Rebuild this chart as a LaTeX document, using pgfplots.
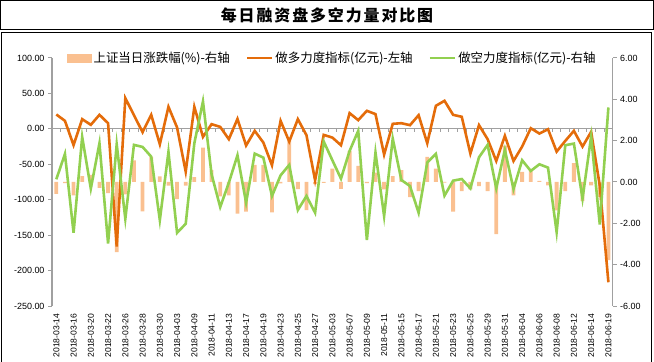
\documentclass[border=0pt]{standalone}
\usepackage{fontspec}
\setmainfont{Liberation Sans}
\newfontfamily\cjk{Noto Sans CJK SC}
\newfontfamily\cjktitle[LetterSpace=12]{Noto Sans CJK SC}
\usepackage{pgfplots}
\pgfplotsset{compat=1.18}
\usepackage{pgfplotstable}
\definecolor{barc}{HTML}{FAC090}
\definecolor{longc}{HTML}{E46C0A}
\definecolor{shortc}{HTML}{92D050}
\definecolor{axgray}{HTML}{A0A0A0}

\pgfplotstableread{
idx bar long short
0 -0.57 20.3 -71.2
1 -0.05 11.3 -35.4
2 -0.65 -23.0 -146.7
3 0.28 13.7 -11.3
4 0.34 5.7 -84.4
5 -0.29 19.8 -20.3
6 -0.54 8.0 -161.8
7 -3.39 -166.0 -21.7
8 -0.60 43.4 -126.9
9 1.05 19.3 -22.6
10 -1.42 -4.7 -25.5
11 1.22 19.8 -39.2
12 0.27 -21.7 -128.8
13 -0.17 31.1 -32.5
14 -0.83 1.9 -146.7
15 -0.17 -60.4 -134.0
16 0.23 31.1 -20.3
17 1.66 -11.3 38.7
18 0.57 6.6 -64.2
19 -0.70 2.8 -110.4
20 -0.65 -14.6 -76.0
21 -1.53 14.0 -37.3
22 -1.43 -23.5 -104.2
23 0.83 -2.8 -34.9
24 0.83 -19.3 -40.6
25 -1.47 -51.4 -94.8
26 -0.07 11.3 -65.6
27 2.00 -17.9 -50.9
28 -0.35 13.7 -114.6
29 -1.36 -9.0 -94.8
30 -0.10 -72.6 -118.4
31 -0.04 -8.5 -17.9
32 0.65 -12.3 -44.3
33 -0.33 -23.1 -70.3
34 1.50 22.2 -31.1
35 0.78 12.3 -2.8
36 -0.06 25.5 -157.0
37 0.45 20.8 -33.5
38 -0.36 -36.3 -123.1
39 0.29 7.1 -13.7
40 0.58 8.0 -72.2
41 -0.73 5.2 -80.7
42 -0.44 19.3 -118.4
43 1.22 -20.3 -47.5
44 0.65 32.5 -35.4
45 -0.03 39.6 -94.3
46 -1.43 19.8 -73.1
47 -0.44 17.0 -70.8
48 -0.36 -34.9 -84.0
49 -0.20 5.2 -40.1
50 -0.44 -14.6 -22.6
51 -2.52 -45.3 -84.0
52 1.76 -9.9 -29.7
53 -0.65 -45.3 -84.9
54 0.49 -25.0 -44.3
55 0.54 0.9 -59.4
56 0.06 -6.6 -50.0
57 -0.16 -0.5 -54.7
58 -1.37 -32.1 -145.8
59 -0.44 -17.0 -23.1
60 0.91 -2.8 -20.8
61 -0.93 -25.0 -98.6
62 -0.16 -4.2 -10.8
63 -0.73 -80.0 -134.9
64 -3.78 -216.5 30.2
}\data

\pgfplotsset{
  linelegend/.style={legend image code/.code={\draw[##1] (0bp,0bp) -- (25bp,0bp);}},
  common/.style={
    scale only axis, width=560.7bp, height=248bp,
    at={(52bp,55bp)}, anchor=south west,
    xmin=-0.5, xmax=64.5,
    tick align=outside, major tick length=4bp,
    axis line style={draw=axgray, line width=1.2bp},
    y tick style={draw=axgray, line width=1bp},
    ticklabel style={font=\fontsize{9}{9}\selectfont, text=black},
    /pgf/number format/.cd, fixed, fixed zerofill, precision=2, 1000 sep={}, assume math mode=true
  }
}

\begin{document}
\begin{tikzpicture}[x=1bp,y=1bp]
\path[use as bounding box] (0,0) rectangle (654,361);

\begin{axis}[common, ymin=-6, ymax=6, ytick={-6,-4,...,6},
  axis y line*=right, axis x line=none]
\addplot[ybar, bar width=3.8bp, fill=barc, draw=none] table[x=idx, y=bar]{\data};
\end{axis}

\begin{axis}[common, ymin=-250, ymax=100, ytick={-250,-200,...,100},
  axis y line*=left, axis x line*=bottom,
  x axis line style={draw=none},
  x tick style={draw=none},
  xtick={0,2,...,64},
  xticklabels={2018-03-14,2018-03-16,2018-03-20,2018-03-22,2018-03-26,2018-03-28,2018-03-30,2018-04-03,2018-04-09,2018-04-11,2018-04-13,2018-04-17,2018-04-19,2018-04-23,2018-04-25,2018-04-27,2018-05-03,2018-05-07,2018-05-09,2018-05-11,2018-05-15,2018-05-17,2018-05-21,2018-05-23,2018-05-25,2018-05-29,2018-05-31,2018-06-04,2018-06-06,2018-06-08,2018-06-12,2018-06-14,2018-06-19},
  xticklabel style={rotate=90, anchor=east, font=\fontsize{8.6}{9}\selectfont},
  legend style={at={(0.5,1)}, anchor=center, draw=none, fill=none,
    font=\cjk\fontsize{12.5}{13}\selectfont, legend columns=3,
    /tikz/every even column/.append style={column sep=14bp}},
  legend cell align=left]
\draw[axgray, line width=1.2bp] (axis cs:-0.5,0) -- (axis cs:64.5,0);
\pgfplotsinvokeforeach{-0.5,0.5,...,64.5}{\draw[axgray, line width=1bp] (axis cs:#1,0) -- ([yshift=-3.5bp]axis cs:#1,0);}
\addlegendimage{legend image code/.code={\fill[barc] (0bp,-4bp) rectangle (24bp,4bp);}}
\addlegendentry{上证当日涨跌幅(\%)-右轴}
\addplot[longc, line width=2.6bp, linelegend] table[x=idx, y=long]{\data};
\addlegendentry{做多力度指标(亿元)-左轴}
\addplot[shortc, line width=2.6bp, linelegend] table[x=idx, y=short]{\data};
\addlegendentry{做空力度指标(亿元)-右轴}
\end{axis}

\draw[black, line width=0.8bp] (0.5,360.5) rectangle (653.5,331.5);
\node at (327,346) {\cjktitle\bfseries\fontsize{16}{16}\selectfont 每日融资盘多空力量对比图};
\draw[black, line width=0.8bp] (1.5,-10) -- (1.5,329) -- (651,329) -- (651,-10);
\end{tikzpicture}
\end{document}
